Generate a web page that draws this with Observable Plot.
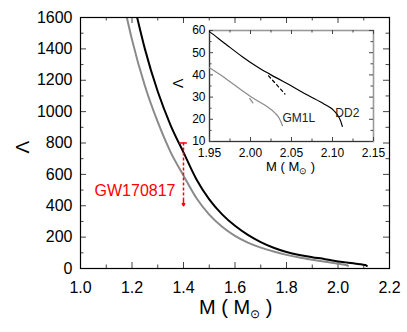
<!DOCTYPE html>
<html><head><meta charset="utf-8">
<script src="https://cdn.jsdelivr.net/npm/d3@7"></script>
<script src="https://cdn.jsdelivr.net/npm/@observablehq/plot@0.6"></script>
<style>
body{margin:0;background:#fff;}
#wrap{position:relative;width:407px;height:332px;}
#wrap svg{position:absolute;left:0;top:0;}
</style></head><body><div id="wrap"></div>
<script>
// ---- data ----
const dd2Mass   = [1.22,1.25,1.30,1.35,1.40,1.45,1.50,1.55,1.60,1.65,1.70,1.75,1.80,1.85,1.90,1.95,1.97,1.99,2.01,2.03,2.05,2.07,2.09,2.10,2.105,2.11,2.112];
const dd2Lambda = [1600,1400,1128,913,740,569,441,345,272,214,168,132,105,86,72,59.5,53.8,48.2,43.2,39.0,35.0,30.8,26.8,24.5,22.5,19.2,16.8];
const gm1lMass   = [1.18,1.20,1.25,1.30,1.35,1.40,1.45,1.50,1.55,1.60,1.65,1.70,1.75,1.80,1.85,1.90,1.95,1.97,1.99,2.00,2.01,2.02,2.03,2.035,2.039];
const gm1lLambda = [1600,1459,1165,934,742,592,449,343,266,208,165,133,108,87,70,56,43.2,38.3,32.9,30.3,28.0,25.8,22.8,20.5,17.2];
const dd2BranchMass = [2.022, 2.042];
const dd2BranchLambda = [39.6, 31.4];
const gm1lBranchMass = [1.999, 2.003];
const gm1lBranchLambda = [29.4, 27.4];
const gw = [{m: 1.4, upper: 800, lower: 400, text: "GW170817", textLambda: 465}];
const seriesNames = ["DD2", "GM1L"];
const seriesLabelMass = [2.1035, 2.0390];
const seriesLabelLambda = [20.9, 18.7];

const xMajor = [1.0,1.2,1.4,1.6,1.8,2.0,2.2];
const xMinor = [1.1,1.3,1.5,1.7,1.9,2.1];
const yMajor = [0,200,400,600,800,1000,1200,1400,1600];
const yMinor = [100,300,500,700,900,1100,1300,1500];
const insetXDomain = [1.95, 2.15];
const insetYDomain = [10, 60];
const insetXMajor = [1.95,2.00,2.05,2.10,2.15];
const insetXMinor = [1.975,2.025,2.075,2.125];
const insetYMajor = [10,20,30,40,50,60];
const insetYMinor = [15,25,35,45,55];

const dd2 = dd2Mass.map((m,i)=>({m, L: dd2Lambda[i]}));
const gm1l = gm1lMass.map((m,i)=>({m, L: gm1lLambda[i]}));
const dd2Branch = dd2BranchMass.map((m,i)=>({m, L: dd2BranchLambda[i]}));
const gm1lBranch = gm1lBranchMass.map((m,i)=>({m, L: gm1lBranchLambda[i]}));
const seriesLabels = seriesNames.map((n,i)=>({n, m: seriesLabelMass[i], L: seriesLabelLambda[i]}));

const FONT = "'Liberation Sans', Arial, sans-serif";
const W = 407, H = 332;
const tickColor = "#444";

// ---- main chart ----
const mL = 80, mR = 18, mT = 17, mB = 64;
const fw = W - mL - mR, fh = H - mT - mB;
function frameTicks(xs, ys, fw, fh, majorLen, minorLen, xsMinor, ysMinor, color) {
  const sw = 1;
  return [
    Plot.ruleX(xs, {x: d=>d, insetTop: fh - majorLen, stroke: color, strokeWidth: sw}),
    Plot.ruleX(xs, {x: d=>d, insetBottom: fh - majorLen, stroke: color, strokeWidth: sw}),
    Plot.ruleX(xsMinor, {x: d=>d, insetTop: fh - minorLen, stroke: color, strokeWidth: sw}),
    Plot.ruleX(xsMinor, {x: d=>d, insetBottom: fh - minorLen, stroke: color, strokeWidth: sw}),
    Plot.ruleY(ys, {y: d=>d, insetRight: fw - majorLen, stroke: color, strokeWidth: sw}),
    Plot.ruleY(ys, {y: d=>d, insetLeft: fw - majorLen, stroke: color, strokeWidth: sw}),
    Plot.ruleY(ysMinor, {y: d=>d, insetRight: fw - minorLen, stroke: color, strokeWidth: sw}),
    Plot.ruleY(ysMinor, {y: d=>d, insetLeft: fw - minorLen, stroke: color, strokeWidth: sw})
  ];
}

const main = Plot.plot({
  width: W, height: H, marginLeft: mL, marginRight: mR, marginTop: mT, marginBottom: mB,
  style: {fontFamily: FONT, fontSize: "16px", color: "#000", background: "transparent", overflow: "visible"},
  x: {domain: [1.0, 2.2]},
  y: {domain: [0, 1600]},
  marks: [
    ...frameTicks(xMajor, yMajor, fw, fh, 6, 3.5, xMinor, yMinor, tickColor),
    Plot.axisX(xMajor, {tickSize: 0, tickPadding: 13, tickFormat: d3.format(".1f"), label: null}),
    Plot.axisY(yMajor, {tickSize: 0, tickPadding: 8, tickFormat: d3.format("d"), label: null}),
    Plot.line(gm1l, {x: "m", y: "L", stroke: "#8a8a8a", strokeWidth: 2, curve: "monotone-x", clip: true}),
    Plot.line(dd2, {x: "m", y: "L", stroke: "#000", strokeWidth: 2, curve: "monotone-x", clip: true}),
    Plot.ruleY(gw, {y: "upper", x1: d=>d.m - 0.015, x2: d=>d.m + 0.015, stroke: "#f00", strokeWidth: 1.5}),
    Plot.ruleX(gw, {x: "m", y1: "upper", y2: d=>d.lower + 45, stroke: "#f00", strokeWidth: 1.5, strokeDasharray: "3,2"}),
    Plot.arrow(gw, {x: "m", y1: d=>d.lower + 45, y2: "lower", stroke: "#f00", strokeWidth: 1.5, headLength: 8}),
    Plot.text(gw, {x: "m", y: "textLambda", text: "text", dx: -8, textAnchor: "end", lineAnchor: "bottom", fill: "#f00", fontSize: 16}),
    Plot.frame({stroke: "#000", strokeWidth: 1.2}),
    Plot.text(["Λ"], {frameAnchor: "left", dx: -58, dy: 10.5, rotate: -90, fontSize: 19, fill: "#000"})
  ]
});

// ---- inset chart ----
const iL = 209, iR = 34, iT = 30, iB = 191;
const ifw = W - iL - iR, ifh = H - iT - iB;
const inset = Plot.plot({
  width: W, height: H, marginLeft: iL, marginRight: iR, marginTop: iT, marginBottom: iB,
  style: {fontFamily: FONT, fontSize: "12px", color: "#000", background: "transparent", overflow: "visible"},
  x: {domain: insetXDomain},
  y: {domain: insetYDomain},
  marks: [
    Plot.frame({stroke: "#999", strokeWidth: 1.6}),
    Plot.ruleX([insetXDomain[0]], {stroke: "#333", strokeWidth: 1.1}),
    Plot.ruleY([insetYDomain[0]], {stroke: "#333", strokeWidth: 1.1}),
    ...frameTicks(insetXMajor, insetYMajor, ifw, ifh, 4, 2.5, insetXMinor, insetYMinor, tickColor),
    Plot.axisX(insetXMajor, {tickSize: 0, tickPadding: 7, tickFormat: d3.format(".2f"), label: null}),
    Plot.axisY(insetYMajor, {tickSize: 0, tickPadding: 4, tickFormat: d3.format("d"), label: null}),
    Plot.line(gm1l, {x: "m", y: "L", stroke: "#8a8a8a", strokeWidth: 1.2, curve: "monotone-x", clip: true}),
    Plot.line(dd2, {x: "m", y: "L", stroke: "#000", strokeWidth: 1.2, curve: "monotone-x", clip: true}),
    Plot.line(dd2Branch, {x: "m", y: "L", stroke: "#000", strokeWidth: 1.2, strokeDasharray: "3,3"}),
    Plot.line(gm1lBranch, {x: "m", y: "L", stroke: "#8a8a8a", strokeWidth: 1.2}),
    Plot.text(seriesLabels, {x: "m", y: "L", text: "n", textAnchor: "start", lineAnchor: "bottom", fontSize: 12, fill: "#222"}),
    Plot.text(["Λ"], {frameAnchor: "left", dx: -31, dy: 2, rotate: -90, fontSize: 14, fill: "#000"})
  ]
});

const wrap = document.getElementById("wrap");
wrap.appendChild(main);
wrap.appendChild(inset);

function massLabel(svg, x, y, size, subSize, shift) {
  const t = d3.select(svg).append("text")
    .attr("x", x).attr("y", y)
    .attr("text-anchor", "start")
    .attr("font-family", FONT).attr("font-size", size).attr("fill", "#000");
  t.append("tspan").text("M ( M");
  t.append("tspan").attr("font-size", subSize).attr("dy", shift).text("⊙");
  t.append("tspan").attr("dy", -shift).text(" )");
}
massLabel(main, 199, 314, 20, 12, 4);
massLabel(inset, 266, 170.5, 13, 9, 3);
</script></body></html>
